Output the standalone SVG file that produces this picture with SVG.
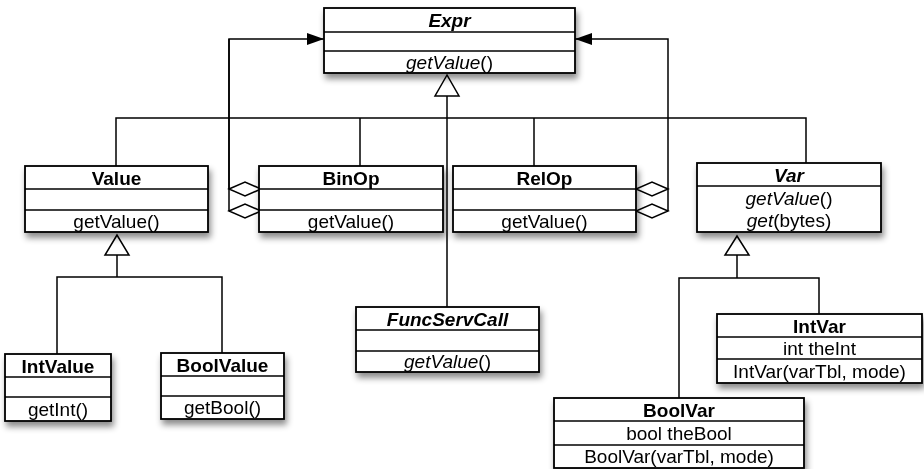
<svg xmlns="http://www.w3.org/2000/svg" width="924" height="469" viewBox="0 0 924 469">
<style>
  .box{fill:#fff;stroke:#000;stroke-width:1.8}
  .sep{stroke:#000;stroke-width:1.6}
  .t{font-family:"Liberation Sans",Arial,Helvetica,sans-serif;font-size:19px;text-anchor:middle;fill:#000}
  .b{font-weight:bold}
  .i{font-style:italic}
  .ln{fill:none;stroke:#000;stroke-width:1.5}
  .tri{fill:#fff;stroke:#000;stroke-width:1.5}
  .dia{fill:#fff;stroke:#000;stroke-width:1.5}
</style>
<defs>
  <filter id="sh" x="-10%" y="-20%" width="130%" height="160%">
    <feDropShadow dx="2" dy="5" stdDeviation="3" flood-color="#000" flood-opacity="0.45"/>
  </filter>
  <marker id="arr" markerWidth="18" markerHeight="12" refX="17" refY="6" orient="auto" markerUnits="userSpaceOnUse">
    <path d="M0,0 L17,6 L0,12 Z" fill="#000"/>
  </marker>
</defs>

<g id="connectors">
  <!-- generalization to Expr -->
  <polygon class="tri" points="447,75 435,96 459,96"/>
  <path class="ln" d="M447,96 V307"/>
  <path class="ln" d="M116,166 V118 H806 V163"/>
  <path class="ln" d="M360,118 V166"/>
  <path class="ln" d="M534,118 V166"/>
  <!-- aggregations to Expr (left) -->
  <path class="ln" d="M229,211 V39 H324" marker-end="url(#arr)"/>
  <path class="ln" d="M229,189 V39"/>
  <polygon class="dia" points="229,189 245,182 261,189 245,196"/>
  <polygon class="dia" points="229,211 245,204 261,211 245,218"/>
  <!-- aggregations to Expr (right) -->
  <path class="ln" d="M668,211 V39 H575" marker-end="url(#arr)"/>
  <polygon class="dia" points="668,189 652,182 636,189 652,196"/>
  <polygon class="dia" points="668,211 652,204 636,211 652,218"/>
  <!-- generalization to Value -->
  <polygon class="tri" points="117,235 105,255 129,255"/>
  <path class="ln" d="M117,255 V277"/>
  <path class="ln" d="M57,354 V277 H222 V353"/>
  <!-- generalization to Var -->
  <polygon class="tri" points="737,236 725,255 749,255"/>
  <path class="ln" d="M737,255 V278"/>
  <path class="ln" d="M679,398 V278 H819 V314"/>
</g>

<g id="Expr" filter="url(#sh)">
  <rect class="box" x="324" y="8" width="251" height="65"/>
  <line class="sep" x1="324" y1="32" x2="575" y2="32"/>
  <line class="sep" x1="324" y1="51" x2="575" y2="51"/>
  <text class="t b i" x="449.5" y="27">Expr</text>
  <text class="t" x="449.5" y="69"><tspan class="i">getValue</tspan>()</text>
</g>

<g id="Value" filter="url(#sh)">
  <rect class="box" x="25" y="166" width="183" height="66"/>
  <line class="sep" x1="25" y1="189" x2="208" y2="189"/>
  <line class="sep" x1="25" y1="210" x2="208" y2="210"/>
  <text class="t b" x="116.5" y="185">Value</text>
  <text class="t" x="116.5" y="228">getValue()</text>
</g>

<g id="BinOp" filter="url(#sh)">
  <rect class="box" x="259" y="166" width="184" height="66"/>
  <line class="sep" x1="259" y1="189" x2="443" y2="189"/>
  <line class="sep" x1="259" y1="210" x2="443" y2="210"/>
  <text class="t b" x="351" y="185">BinOp</text>
  <text class="t" x="351" y="228">getValue()</text>
</g>

<g id="RelOp" filter="url(#sh)">
  <rect class="box" x="453" y="166" width="183" height="66"/>
  <line class="sep" x1="453" y1="189" x2="636" y2="189"/>
  <line class="sep" x1="453" y1="210" x2="636" y2="210"/>
  <text class="t b" x="544.5" y="185">RelOp</text>
  <text class="t" x="544.5" y="228">getValue()</text>
</g>

<g id="Var" filter="url(#sh)">
  <rect class="box" x="697" y="163" width="184" height="69"/>
  <line class="sep" x1="697" y1="186" x2="881" y2="186"/>
  <text class="t b i" x="789" y="182">Var</text>
  <text class="t" x="789" y="205"><tspan class="i">getValue</tspan>()</text>
  <text class="t" x="789" y="227"><tspan class="i">get</tspan>(bytes)</text>
</g>

<g id="FuncServCall" filter="url(#sh)">
  <rect class="box" x="356" y="307" width="183" height="65"/>
  <line class="sep" x1="356" y1="330" x2="539" y2="330"/>
  <line class="sep" x1="356" y1="351" x2="539" y2="351"/>
  <text class="t b i" x="447.5" y="326">FuncServCall</text>
  <text class="t" x="447.5" y="368"><tspan class="i">getValue</tspan>()</text>
</g>

<g id="IntValue" filter="url(#sh)">
  <rect class="box" x="5" y="354" width="106" height="67"/>
  <line class="sep" x1="5" y1="377" x2="111" y2="377"/>
  <line class="sep" x1="5" y1="397" x2="111" y2="397"/>
  <text class="t b" x="58" y="373">IntValue</text>
  <text class="t" x="58" y="416">getInt()</text>
</g>

<g id="BoolValue" filter="url(#sh)">
  <rect class="box" x="161" y="353" width="123" height="66"/>
  <line class="sep" x1="161" y1="376" x2="284" y2="376"/>
  <line class="sep" x1="161" y1="396" x2="284" y2="396"/>
  <text class="t b" x="222.5" y="372">BoolValue</text>
  <text class="t" x="222.5" y="414">getBool()</text>
</g>

<g id="IntVar" filter="url(#sh)">
  <rect class="box" x="717" y="314" width="205" height="69"/>
  <line class="sep" x1="717" y1="337" x2="922" y2="337"/>
  <line class="sep" x1="717" y1="359" x2="922" y2="359"/>
  <text class="t b" x="819.5" y="333">IntVar</text>
  <text class="t" x="819.5" y="355">int theInt</text>
  <text class="t" x="819.5" y="378">IntVar(varTbl, mode)</text>
</g>

<g id="BoolVar" filter="url(#sh)">
  <rect class="box" x="554" y="398" width="250" height="70"/>
  <line class="sep" x1="554" y1="421" x2="804" y2="421"/>
  <line class="sep" x1="554" y1="445" x2="804" y2="445"/>
  <text class="t b" x="679" y="417">BoolVar</text>
  <text class="t" x="679" y="440">bool theBool</text>
  <text class="t" x="679" y="463">BoolVar(varTbl, mode)</text>
</g>
</svg>
